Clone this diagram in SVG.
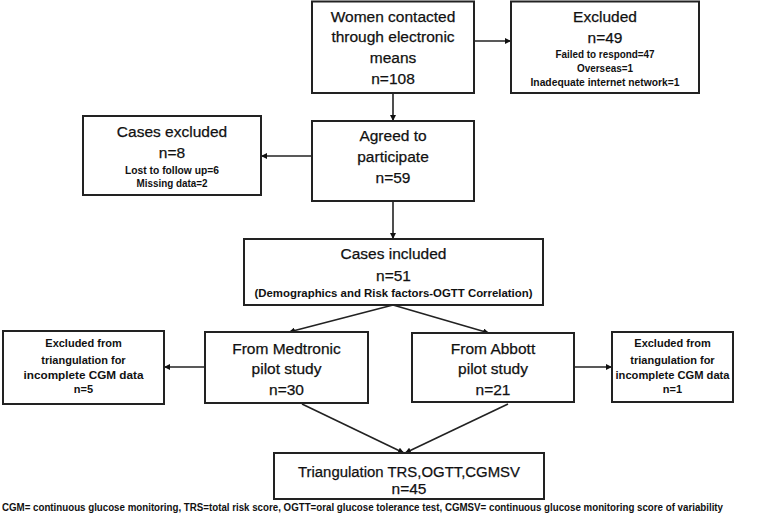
<svg xmlns="http://www.w3.org/2000/svg" width="777" height="521" viewBox="0 0 777 521">
<style>
.box{fill:#fff;stroke:#222;stroke-width:2}
.t{font-family:"Liberation Sans",Arial,sans-serif;font-size:15.5px;fill:#111;stroke:#111;stroke-width:0.25;text-anchor:middle}
.s{font-family:"Liberation Sans",Arial,sans-serif;font-size:11px;font-weight:bold;fill:#111;text-anchor:middle}
.c{stroke:#222;stroke-width:1.6;fill:none;marker-end:url(#ah)}
</style>
<defs>
<marker id="ah" viewBox="0 0 10 10" refX="10" refY="5" markerWidth="6" markerHeight="6" markerUnits="userSpaceOnUse" orient="auto">
<path d="M0,0 L10,5 L0,10 z" fill="#111"/>
</marker>
</defs>
<rect width="777" height="521" fill="#fff"/>
<g id="connectors">
<line class="c" x1="474" y1="41" x2="511" y2="41"/>
<line class="c" x1="393" y1="93" x2="393" y2="121"/>
<line class="c" x1="312" y1="156" x2="261" y2="156"/>
<line class="c" x1="393" y1="201" x2="393" y2="239"/>
<line class="c" x1="393" y1="305" x2="289" y2="332"/>
<line class="c" x1="393" y1="305" x2="489" y2="333"/>
<line class="c" x1="205" y1="367" x2="164" y2="367"/>
<line class="c" x1="574" y1="367" x2="612" y2="367"/>
<line class="c" x1="302" y1="404" x2="404" y2="453"/>
<line class="c" x1="508" y1="404" x2="405" y2="453"/>
</g>
<g id="contacted">
<rect class="box" x="312" y="1.5" width="162" height="91.5"/>
<text class="t" x="393" y="22">Women contacted</text>
<text class="t" x="393" y="42">through electronic</text>
<text class="t" x="393" y="63">means</text>
<text class="t" x="393" y="84">n=108</text>
</g>
<g id="excluded49">
<rect class="box" x="511" y="1.5" width="188" height="91.5"/>
<text class="t" x="605" y="22">Excluded</text>
<text class="t" x="605" y="43">n=49</text>
<text class="s" x="605" y="58" textLength="99" lengthAdjust="spacingAndGlyphs">Failed to respond=47</text>
<text class="s" x="605" y="72" textLength="56" lengthAdjust="spacingAndGlyphs">Overseas=1</text>
<text class="s" x="605" y="86" textLength="149" lengthAdjust="spacingAndGlyphs">Inadequate internet network=1</text>
</g>
<g id="agreed">
<rect class="box" x="312" y="121" width="162" height="80"/>
<text class="t" x="393" y="141">Agreed to</text>
<text class="t" x="393" y="162">participate</text>
<text class="t" x="393" y="183">n=59</text>
</g>
<g id="casesexcluded">
<rect class="box" x="83" y="116" width="178" height="79"/>
<text class="t" x="172" y="137">Cases excluded</text>
<text class="t" x="172" y="158">n=8</text>
<text class="s" x="172" y="174" textLength="94" lengthAdjust="spacingAndGlyphs">Lost to follow up=6</text>
<text class="s" x="172" y="187" textLength="71" lengthAdjust="spacingAndGlyphs">Missing data=2</text>
</g>
<g id="included">
<rect class="box" x="244" y="239" width="299" height="66"/>
<text class="t" x="393.5" y="259">Cases included</text>
<text class="t" x="393.5" y="281">n=51</text>
<text class="s" x="393.5" y="297" textLength="278" lengthAdjust="spacingAndGlyphs">(Demographics and Risk factors-OGTT Correlation)</text>
</g>
<g id="medtronic">
<rect class="box" x="205" y="332" width="163" height="71"/>
<text class="t" x="286.5" y="354">From Medtronic</text>
<text class="t" x="286.5" y="374">pilot study</text>
<text class="t" x="286.5" y="395">n=30</text>
</g>
<g id="excluded5">
<rect class="box" x="3" y="331" width="161" height="73"/>
<text class="s" x="83.5" y="347">Excluded from</text>
<text class="s" x="83.5" y="364">triangulation for</text>
<text class="s" x="83.5" y="379" textLength="120" lengthAdjust="spacingAndGlyphs">incomplete CGM data</text>
<text class="s" x="83.5" y="393">n=5</text>
</g>
<g id="abbott">
<rect class="box" x="412" y="333" width="162" height="69"/>
<text class="t" x="493" y="354">From Abbott</text>
<text class="t" x="493" y="374">pilot study</text>
<text class="t" x="493" y="395">n=21</text>
</g>
<g id="excluded1">
<rect class="box" x="612" y="332" width="121" height="70"/>
<text class="s" x="672.5" y="347">Excluded from</text>
<text class="s" x="672.5" y="364">triangulation for</text>
<text class="s" x="672.5" y="379" textLength="114" lengthAdjust="spacingAndGlyphs">incomplete CGM data</text>
<text class="s" x="672.5" y="393">n=1</text>
</g>
<g id="triangulation">
<rect class="box" x="274" y="453" width="270" height="46"/>
<text class="t" x="409" y="477" textLength="222" lengthAdjust="spacingAndGlyphs">Triangulation TRS,OGTT,CGMSV</text>
<text class="t" x="409" y="494">n=45</text>
</g>
<text class="s" x="2" y="511" style="text-anchor:start;font-size:10.5px" textLength="721" lengthAdjust="spacingAndGlyphs">CGM= continuous glucose monitoring, TRS=total risk score, OGTT=oral glucose tolerance test, CGMSV= continuous glucose monitoring score of variability</text>
</svg>
